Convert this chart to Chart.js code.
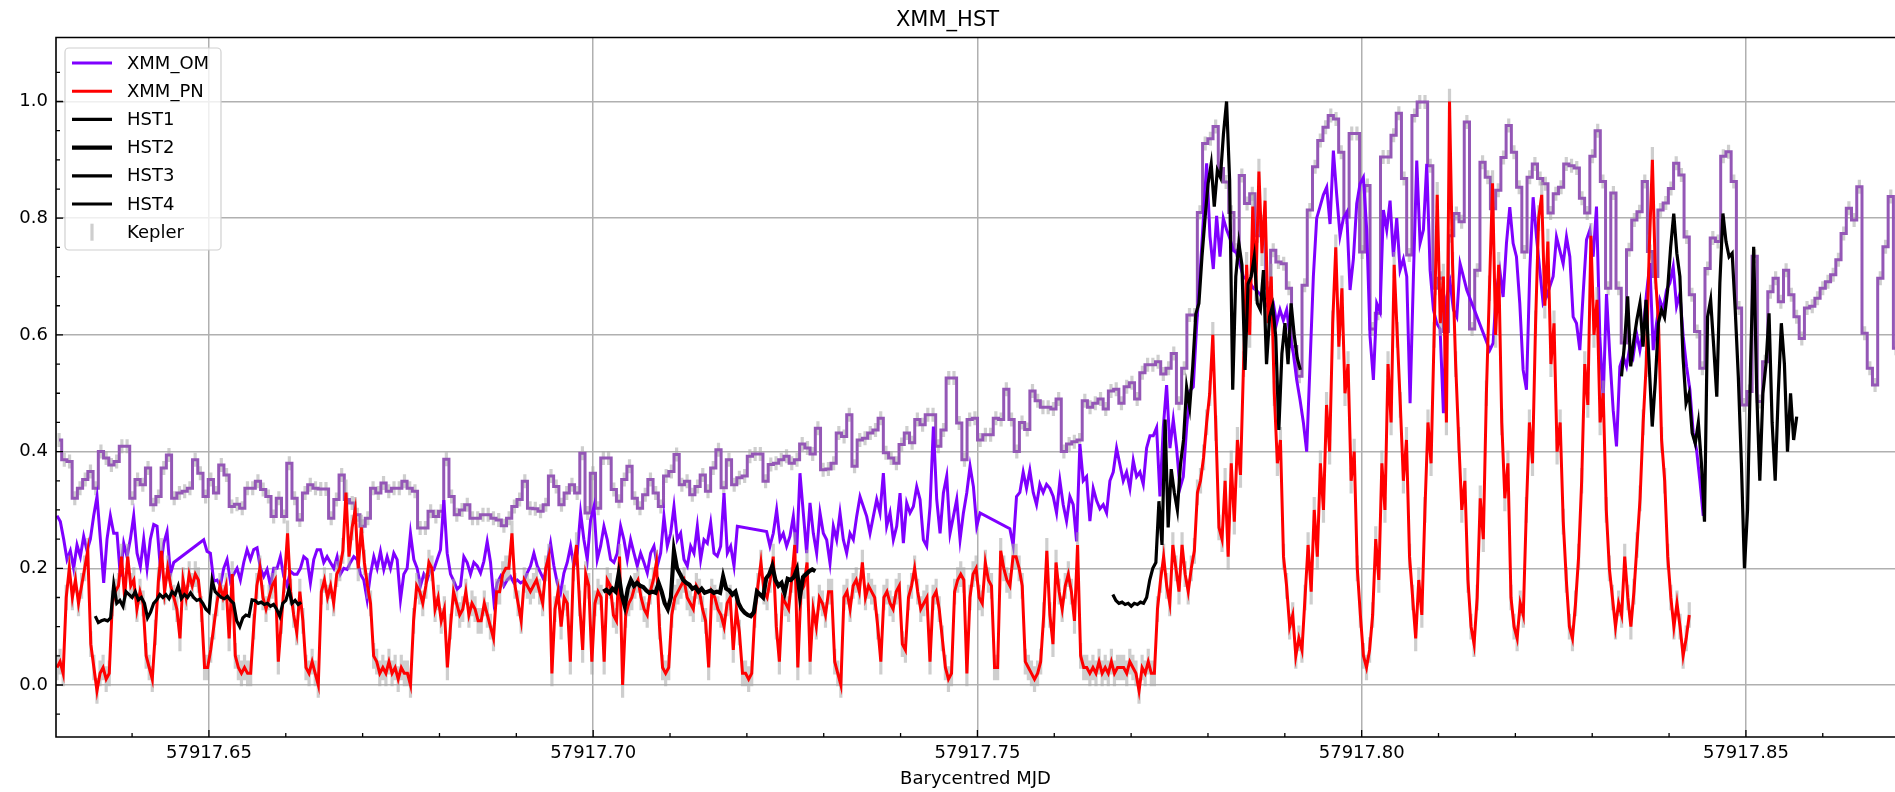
<!DOCTYPE html>
<html>
<head>
<meta charset="utf-8">
<title>XMM_HST</title>
<script src="https://cdn.jsdelivr.net/npm/chart.js@4.4.1/dist/chart.umd.min.js"></script>
<style>
  html, body { margin: 0; padding: 0; background: #ffffff; overflow: hidden; }
  #wrap { width: 1895px; height: 792px; position: relative; }
</style>
</head>
<body>
<div id="wrap"><canvas id="lc" width="1895" height="792"></canvas></div>
<script>
// ---- axes ----
const X_MIN = 57917.6301, X_MAX = 57917.8694;
const Y_MIN = -0.0891, Y_MAX = 1.1097;
const X_MAJOR = [57917.65, 57917.70, 57917.75, 57917.80, 57917.85];
const X_MAJOR_LABELS = ['57917.65', '57917.70', '57917.75', '57917.80', '57917.85'];
const X_MINOR = [57917.64, 57917.66, 57917.67, 57917.68, 57917.69, 57917.71, 57917.72, 57917.73, 57917.74,
                 57917.76, 57917.77, 57917.78, 57917.79, 57917.81, 57917.82, 57917.83, 57917.84, 57917.86];
const Y_MAJOR = [0, 0.2, 0.4, 0.6, 0.8, 1.0];
const Y_LABELS = ['0.0', '0.2', '0.4', '0.6', '0.8', '1.0'];
const Y_MINOR = [-0.05, 0.05, 0.1, 0.15, 0.25, 0.3, 0.35, 0.45, 0.5, 0.55, 0.65, 0.7, 0.75, 0.85, 0.9, 0.95, 1.05];

// ---- Kepler short cadence (normalised flux) ----
const KEPLER_T0 = 57917.6305;
const KEPLER_DT = 0.000681;
const KEPLER_ERR = 0.012;
const KEPLER_FLUX = [
  .42,.386,.383,.32,.337,.352,.366,.337,.40,.389,
  .377,.383,.409,.409,.32,.352,.343,.372,.309,.323,
  .372,.394,.32,.329,.332,.337,.386,.363,.323,.352,
  .329,.377,.36,.306,.31,.303,.337,.337,.349,.335,
  .323,.289,.32,.289,.38,.32,.283,.329,.343,.337,
  .336,.336,.286,.318,.36,.318,.312,.292,.272,.286,
  .337,.329,.346,.332,.337,.337,.349,.337,.332,.269,
  .269,.298,.289,.298,.387,.323,.292,.300,.309,.286,
  .286,.292,.292,.286,.283,.273,.286,.306,.318,.349,
  .303,.302,.298,.309,.358,.34,.309,.329,.343,.329,
  .397,.295,.363,.303,.389,.389,.335,.315,.352,.375,
  .32,.303,.326,.352,.329,.306,.358,.366,.395,.343,
  .349,.326,.34,.36,.332,.372,.403,.338,.386,.343,
  .355,.358,.392,.396,.396,.349,.378,.38,.386,.392,
  .38,.386,.413,.406,.396,.44,.369,.37,.38,.432,
  .426,.463,.375,.42,.423,.432,.437,.457,.398,.389,
  .38,.412,.432,.415,.455,.446,.463,.463,.409,.437,
  .526,.526,.449,.386,.455,.457,.42,.429,.429,.457,
  .455,.507,.455,.40,.45,.438,.504,.487,.476,.476,
  .473,.49,.40,.413,.417,.42,.487,.476,.483,.49,
  .473,.504,.507,.483,.511,.518,.49,.535,.549,.549,
  .554,.533,.543,.568,.483,.543,.634,.634,.81,.928,
  .936,.957,.885,.862,.81,.745,.873,.825,.842,.77,
  .794,.68,.745,.725,.722,.68,.58,.529,.685,.814,
  .888,.933,.956,.976,.97,.913,.802,.945,.945,.742,
  .856,.61,.637,.905,.905,.942,.98,.868,.737,.976,
  .999,.999,.89,.68,.697,.606,.77,.808,.794,.965,
  .61,.711,.896,.87,.816,.848,.904,.959,.913,.853,
  .742,.87,.893,.868,.859,.809,.842,.853,.893,.89,
  .886,.834,.809,.906,.95,.863,.68,.843,.68,.586,
  .746,.797,.811,.863,.743,.7,.814,.826,.851,.894,
  .874,.768,.669,.606,.543,.714,.766,.76,.906,.914,
  .863,.646,.48,.503,.735,.486,.554,.674,.697,.657,
  .711,.669,.631,.594,.646,.649,.663,.68,.691,.703,
  .729,.774,.817,.797,.854,.603,.543,.514,.697,.751,
  .837,.577
];

// ---- XMM-Newton OM (fast mode), five continuous stretches ----
const OM_DT = 0.000434;
const OM_T0 = [57917.63023, 57917.64932, 57917.72257, 57917.75422, 57917.81667];
const OM_A = [
  .29,.28,.25,.215,.23,.2,.24,.22,.255,.23,.25,.29,.323,.25,.175,.25,.29,.26,.26,.186,
  .243,.22,.25,.29,.226,.203,.25,.2,.25,.275,.272,.2,.243,.263,.19,.21
];
const OM_B = [
  .249,.229,.226,.178,.18,.17,.2,.215,.178,.19,
  .2,.18,.21,.232,.215,.232,.235,.2,.186,.198,
  .17,.2,.2,.22,.186,.17,.195,.19,.19,.2,
  .22,.215,.175,.215,.232,.232,.21,.22,.21,.2,
  .22,.19,.2,.198,.21,.22,.215,.19,.18,.146,
  .19,.22,.2,.229,.198,.22,.2,.226,.215,.146,
  .19,.2,.26,.215,.2,.17,.19,.18,.2,.198,
  .215,.232,.317,.226,.19,.178,.164,.17,.22,.21,
  .19,.21,
  .204,.192,.212,.246,.21,.144,.175,.186,.17,.18,
  .186,.175,.18,.175,.178,.192,.204,.226,.204,.192,
  .18,.21,.243,.204,.175,.158,.192,.21,.238,.204,
  .226,.295,.249,.215,.283,.306,.215,.238,.272,.249,
  .215,.21,.226,.272,.249,.215,.249,.226,.204,.226,
  .21,.192,.226,.238,.204,.226,.289,.238,.26,.306,
  .249,.26,.215,.204,.238,.226,.272,.215,.249,.243,
  .278,.226,.221,.238,.329,.226,.238,.204,.272
];
const OM_C = [
  .263,.238,.26,.3,.249,.26,.238,.255,.289,.226,
  .363,.295,.226,.312,.26,.226,.295,.26,.249,.209,
  .272,.249,.295,.249,.226,.26,.249,.289,.323,.306,
  .289,.26,.289,.318,.295,.363,.272,.295,.249,.272,
  .329,.243,.312,.295,.306,.34,.318,.249,.238,.306,
  .443,.318,.26,.329,.358,.26,.289,.318,.249,.295,
  .329,.375,.34,.272,.295
];
const OM_D = [
  .268,.239,.323,.33,.365,.337,.368,.33,.309,.344,
  .33,.344,.337,.323,.295,.35,.309,.281,.323,.309,
  .246,.413,.35,.357,.281,.337,.316,.302,.309,.295,
  .35,.365,.406,.378,.35,.365,.337,.385,.357,.365,
  .344,.406,.427,.427,.441,.323,.441,.514,.406,.455,
  .406,.337,.357,.441,.504,.511,.615,.70,.797,.894,
  .769,.713,.804,.734,
  .80,.78,.765,.745,.74,.72,.70,.695,.69,.68,
  .676,.67,.66,.65,.648,.654,.62,.643,.625,.643,
  .597,.568,.523,.489,.45,.40,.55,.70,.80,.82,
  .84,.853,.79,.916,.84,.77,.80,.81,.677,.73,
  .825,.859,.87,.78,.597,.523,.654,.64,.814,.78,
  .83,.734,.80,.711,.73,.70,.483,.70,.899,.757,
  .78,.893,.711,.643,.62,.61,.466,.665,.69,.643,
  .631,.722,.70,.677
];
const OM_E = [
  .574,.586,.677,.711,.665,.757,.819,.757,.734,.654,
  .54,.506,.711,.836,.768,.711,.654,.665,.683,.70,
  .768,.745,.722,.768,
  .734,.631,.62,.574,.671,.763,.78,.734,.82,.597,
  .489,.67,.563,.471,.409,.546,.563,.546,.58,.563,
  .603,.574,.608,.671,.723,.574,.62,.66,.643,.677,
  .689,.717,.649,.671,.597,.546,.506,.432,.403,.35,.29
];

// ---- XMM-Newton EPIC-pn ----
const PN_T0 = 57917.63023;
const PN_DT = 0.0004;
const PN_ERR = 0.022;
const PN_RATE = [
  .03,.04,.02,.15,.2,.15,.18,.14,.17,.2,
  .23,.07,.03,-.01,.02,.03,.01,.02,.14,.16,
  .17,.22,.15,.22,.17,.18,.13,.16,.14,.05,
  .03,.01,.09,.18,.23,.16,.2,.17,.15,.13,
  .08,.18,.15,.19,.17,.19,.18,.13,.03,.03,
  .06,.1,.14,.17,.15,.17,.08,.19,.05,.03,
  .02,.03,.02,.02,.1,.17,.2,.15,.13,.15,
  .17,.18,.04,.11,.18,.26,.16,.12,.09,.16,
  .11,.03,.02,.04,.02,0,.16,.18,.15,.17,
  .14,.19,.2,.23,.33,.22,.27,.3,.2,.27,
  .21,.17,.14,.05,.04,.02,.03,.02,.04,.02,
  .03,.01,.03,.02,.02,0,.11,.17,.16,.14,
  .17,.21,.2,.13,.15,.11,.13,.03,.1,.16,
  .14,.12,.13,.16,.12,.14,.13,
  .11,.11,.14,.12,.1,.08,.16,.16,.19,.2,
  .2,.26,.17,.14,.11,.18,.17,.16,.17,.18,
  .16,.14,.2,.22,.02,.13,.16,.1,.15,.14,
  .04,.2,.24,.14,.06,.19,.17,.04,.14,.16,
  .15,.04,.18,.17,.12,.11,.22,0,.12,.14,
  .15,.17,.18,.15,.13,.12,.16,.18,.21,.1,
  .03,.02,.03,.12,.15,.16,.17,.18,.15,.14,
  .13,.17,.16,.13,.11,.03,.16,.15,.13,.12,
  .1,.14,.15,.06,.13,.09,.02,.02,.01,.02,
  .12,.17,.21,.16,.15,.18,.22,.1,.04,.15,
  .14,.13,.18,.24,.03,.16,.17,.21,.04,.13,
  .1,.15,.14,.12,.16,.16,.04,.02,0,.15,
  .16,.13,.17,.18,.16,.21,.15,.17,.16,.15,
  .1,.04,.15,.16,.14,.13,.16,.17,.07,.06,
  .15,.17,.2,.16,.13,.14,.15,.04,.15,.16,
  .13,.08,.03,.01,.02,.16,.18,.19,.18,.02,
  .15,.19,.2,.15,.14,.21,.18,
  .17,.03,.03,.23,.2,.18,.17,.22,.22,.2,
  .17,.04,.03,.02,.01,.02,.04,.12,.23,.12,
  .07,.21,.16,.13,.17,.19,.16,.11,.24,.05,
  .03,.03,.02,.03,.02,.04,.02,.03,.02,.04,
  .02,.03,.03,.03,.02,.04,.03,.02,-.01,.03,
  .02,.04,.02,.02,.13,.18,.22,.17,.14,.24,
  .2,.16,.24,.19,.16,.2,.23,.33,.35,.39,
  .45,.5,.6,.44,.27,
  .25,.35,.22,.38,.28,.42,.36,
  .55,.72,.6,.82,.68,.88,.74,.83,.62,.7,
  .5,.38,.42,.22,.17,.1,.12,
  .05,.08,.06,
  .15,.24,.16,.3,.22,.38,.3,.48,
  .4,.62,.75,.58,.68,.5,.55,
  .35,.4,.2,.12,.05,.03,.06,
  .12,.25,.18,.38,.3,
  .55,.45,.72,.6,.48,
  .35,.42,.22,.15,.08,
  .18,.12,.3,.45,.38,
  .6,.84,.62,.7,.45,
  1.0,.72,.55,
  .42,.3,.35,.18,.1,.07,
  .15,.32,.25,.5,.68,.86,.6,.72,
  .45,.32,.38,.15,.1,.08,.14,.12,
  .3,.45,.38,.62,.8,.84,.65,.76,.55,.62,.4,.45,.28,
  .18,.1,.08,.14,.22,
  .35,.55,.48,.77,.6,.66,.45,.5,.3,.2,
  .15,.1,.14,.12,.22,.15,.1,.16,.24,.32,.45,
  .55,.75,.9,.7,.62,.42,
  .35,.22,.15,.1,.14,.1,.05,.08,.12
];

// ---- HST visits ----
const HST_DT = 0.0004;
const HST1_T0 = 57917.63521;
const HST1 = [
  .118,.107,.11,.112,.11,.115,.172,.14,.145,.135,
  .16,.155,.15,.16,.146,.15,.14,.115,.125,.14,
  .146,.155,.15,.155,.148,.16,.155,.17,.148,.155,
  .15,.158,.15,.145,.147,.14,.13,.125,.18,.16,
  .155,.15,.148,.152,.145,.14,.11,.1,.115,.12,
  .118,.146,.145,.14,.142,.138,.14,.135,.138,.13,
  .118,.14,.145,.164,.14,.145,.138,.142
];
const HST2_T0 = 57917.70131;
const HST2 = [
  .16,.163,.158,.165,.16,.19,.155,.135,.165,.18,
  .17,.175,.17,.168,.162,.158,.16,.158,.175,.16,
  .14,.13,.15,.23,.2,.19,.18,.175,.172,.165,
  .168,.16,.165,.158,.16,.162,.158,.16,.158,.186,
  .165,.162,.155,.16,.14,.13,.124,.12,.118,.125,
  .16,.155,.15,.183,.19,.204,.18,.17,.175,.158,
  .182,.18,.185,.198,.152,.185,.19,.195,.198,.195
];
const HST3_T0 = 57917.76762;
const HST3 = [
  .155,.145,.14,.142,.138,.14,.135,.14,.138,.142,
  .14,.15,.18,.2,.21,.315,.24,.455,.27,.37,
  .33,.3,.378,.42,.51,.476,.546,.636,.654,.734,
  .8,.86,.893,.82,.882,.87,.945,1.0,.865,.506,
  .70,.757,.72,.54,.688,.70,.734,.654,.643,.711,
  .55,.631,.65,.597,.437,.568,.62,.55,.654,.60,
  .56,.54
];
const HST4_T0 = 57917.83381;
const HST4 = [
  .529,.586,.666,.546,.59,.626,.654,.58,.66,.55,
  .443,.52,.62,.643,.63,.677,.751,.808,.74,.70,
  .563,.483,.5,.432,.414,.45,.38,.28,.631,.66,
  .58,.494,.689,.808,.76,.734,.74,.643,.529,.38,
  .2,.3,.55,.751,.5,.35,.5,.55,.637,.45,
  .35,.5,.62,.55,.4,.5,.42,.46
];

// ---- build point lists on a regular time grid ----
function series(t0, dt, values) {
  return values.map((v, i) => ({ x: t0 + i * dt, y: v }));
}
const omPoints = [OM_A, OM_B, OM_C, OM_D, OM_E]
  .flatMap((seg, k) => series(OM_T0[k], OM_DT, seg));

const FONT = "'DejaVu Sans', 'Liberation Sans', sans-serif";
Chart.defaults.font.family = FONT;
Chart.defaults.color = '#000000';

const ERR_COLOR = 'rgba(165,165,165,0.55)';

// vertical error bars drawn just beneath the owning line
const errorBars = {
  id: 'errorBars',
  beforeDatasetDraw(chart, args) {
    const ds = chart.data.datasets[args.index];
    if (!ds.yErr) return;
    const { ctx, chartArea: a, scales: { x, y } } = chart;
    ctx.save();
    ctx.beginPath();
    ctx.rect(a.left, a.top, a.right - a.left, a.bottom - a.top);
    ctx.clip();
    ctx.strokeStyle = ERR_COLOR;
    ctx.lineWidth = 3.2;
    ctx.beginPath();
    for (const p of ds.data) {
      const px = x.getPixelForValue(p.x);
      if (px < a.left - 5 || px > a.right + 5) continue;
      ctx.moveTo(px, y.getPixelForValue(p.y - ds.yErr));
      ctx.lineTo(px, y.getPixelForValue(p.y + ds.yErr));
    }
    ctx.stroke();
    ctx.restore();
  }
};

// spines plus inward major/minor tick marks
const frameTicks = {
  id: 'frameTicks',
  afterDatasetsDraw(chart) {
    const { ctx, chartArea: a, scales: { x, y } } = chart;
    ctx.save();
    ctx.strokeStyle = '#000000';
    ctx.lineWidth = 1.3;
    ctx.beginPath();
    const tx = (v, len) => { const p = x.getPixelForValue(v); ctx.moveTo(p, a.bottom); ctx.lineTo(p, a.bottom - len); };
    const ty = (v, len) => { const p = y.getPixelForValue(v); ctx.moveTo(a.left, p); ctx.lineTo(a.left + len, p); };
    X_MAJOR.forEach(v => tx(v, 7));
    X_MINOR.forEach(v => tx(v, 4));
    Y_MAJOR.forEach(v => ty(v, 7));
    Y_MINOR.forEach(v => ty(v, 4));
    ctx.stroke();
    ctx.lineWidth = 1.6;
    ctx.beginPath();
    ctx.moveTo(a.right + 2, a.top);
    ctx.lineTo(a.left, a.top);
    ctx.lineTo(a.left, a.bottom);
    ctx.lineTo(a.right + 2, a.bottom);
    ctx.stroke();
    ctx.restore();
  }
};

// boxed legend in the upper-left corner of the plot
const LEGEND_ORDER = ['XMM_OM', 'XMM_PN', 'HST1', 'HST2', 'HST3', 'HST4', 'Kepler'];
const boxLegend = {
  id: 'boxLegend',
  afterDraw(chart) {
    const { ctx, chartArea: a } = chart;
    const bx = a.left + 9, by = a.top + 10.5, bw = 156, bh = 202;
    ctx.save();
    ctx.beginPath();
    ctx.roundRect(bx, by, bw, bh, 4);
    ctx.fillStyle = 'rgba(255,255,255,0.8)';
    ctx.fill();
    ctx.strokeStyle = '#d0d0d0';
    ctx.lineWidth = 1.2;
    ctx.stroke();
    ctx.font = '18px ' + FONT;
    ctx.textBaseline = 'middle';
    ctx.textAlign = 'left';
    LEGEND_ORDER.forEach((name, i) => {
      const ds = chart.data.datasets.find(d => d.label === name);
      const cy = by + 15 + i * 28.2;
      if (name === 'Kepler') {
        ctx.strokeStyle = ERR_COLOR;
        ctx.lineWidth = 3.2;
        ctx.beginPath();
        ctx.moveTo(bx + 27, cy - 8.5);
        ctx.lineTo(bx + 27, cy + 8.5);
        ctx.stroke();
      } else {
        ctx.strokeStyle = ds.borderColor;
        ctx.lineWidth = ds.borderWidth;
        ctx.beginPath();
        ctx.moveTo(bx + 7, cy);
        ctx.lineTo(bx + 47, cy);
        ctx.stroke();
      }
      ctx.fillStyle = '#000000';
      ctx.fillText(name, bx + 62, cy + 1);
    });
    ctx.restore();
  }
};

const lineBase = { pointRadius: 0, pointHoverRadius: 0, tension: 0, fill: false, spanGaps: true };

new Chart(document.getElementById('lc'), {
  type: 'line',
  data: {
    datasets: [
      Object.assign({}, lineBase, {
        label: 'Kepler', data: series(KEPLER_T0, KEPLER_DT, KEPLER_FLUX), yErr: KEPLER_ERR,
        borderColor: '#9457b6', borderWidth: 3.0, stepped: 'middle', order: 6 }),
      Object.assign({}, lineBase, {
        label: 'XMM_OM', data: omPoints, borderColor: '#7f00ff', borderWidth: 3.0, order: 5 }),
      Object.assign({}, lineBase, {
        label: 'XMM_PN', data: series(PN_T0, PN_DT, PN_RATE), yErr: PN_ERR,
        borderColor: '#ff0000', borderWidth: 3.0, order: 4 }),
      Object.assign({}, lineBase, {
        label: 'HST1', data: series(HST1_T0, HST_DT, HST1), borderColor: '#000000', borderWidth: 3.2, order: 3 }),
      Object.assign({}, lineBase, {
        label: 'HST2', data: series(HST2_T0, HST_DT, HST2), borderColor: '#000000', borderWidth: 4.2, order: 2 }),
      Object.assign({}, lineBase, {
        label: 'HST3', data: series(HST3_T0, HST_DT, HST3), borderColor: '#000000', borderWidth: 3.2, order: 1 }),
      Object.assign({}, lineBase, {
        label: 'HST4', data: series(HST4_T0, HST_DT, HST4), borderColor: '#000000', borderWidth: 3.2, order: 0 })
    ]
  },
  options: {
    responsive: false,
    devicePixelRatio: 1,
    animation: false,
    events: [],
    layout: { padding: 0 },
    plugins: {
      legend: { display: false },
      tooltip: { enabled: false },
      title: {
        display: true, text: 'XMM_HST', color: '#000000',
        font: { family: FONT, size: 21, weight: 'normal', lineHeight: 1.2 },
        padding: { top: 8.4, bottom: 3.9 }
      }
    },
    scales: {
      x: {
        type: 'linear', position: 'bottom', min: X_MIN, max: X_MAX,
        afterBuildTicks: s => { s.ticks = X_MAJOR.map(v => ({ value: v })); },
        afterFit: s => { s.height = 55; },
        ticks: {
          callback: (v, i) => X_MAJOR_LABELS[i],
          autoSkip: false, maxRotation: 0, minRotation: 0, padding: 6,
          color: '#000000', font: { family: FONT, size: 18 }
        },
        grid: { color: '#b0b0b0', lineWidth: 1.5, drawTicks: false },
        border: { display: false },
        title: {
          display: true, text: 'Barycentred MJD', color: '#000000',
          font: { family: FONT, size: 18 }, padding: { top: 0, bottom: 1.5 }
        }
      },
      y: {
        type: 'linear', position: 'left', min: Y_MIN, max: Y_MAX,
        afterBuildTicks: s => { s.ticks = Y_MAJOR.map(v => ({ value: v })); },
        afterFit: s => { s.width = 56; },
        ticks: {
          callback: (v, i) => Y_LABELS[i], padding: 8,
          color: '#000000', font: { family: FONT, size: 18 }
        },
        grid: { color: '#b0b0b0', lineWidth: 1.5, drawTicks: false },
        border: { display: false }
      }
    }
  },
  plugins: [errorBars, frameTicks, boxLegend]
});
</script>
</body>
</html>
